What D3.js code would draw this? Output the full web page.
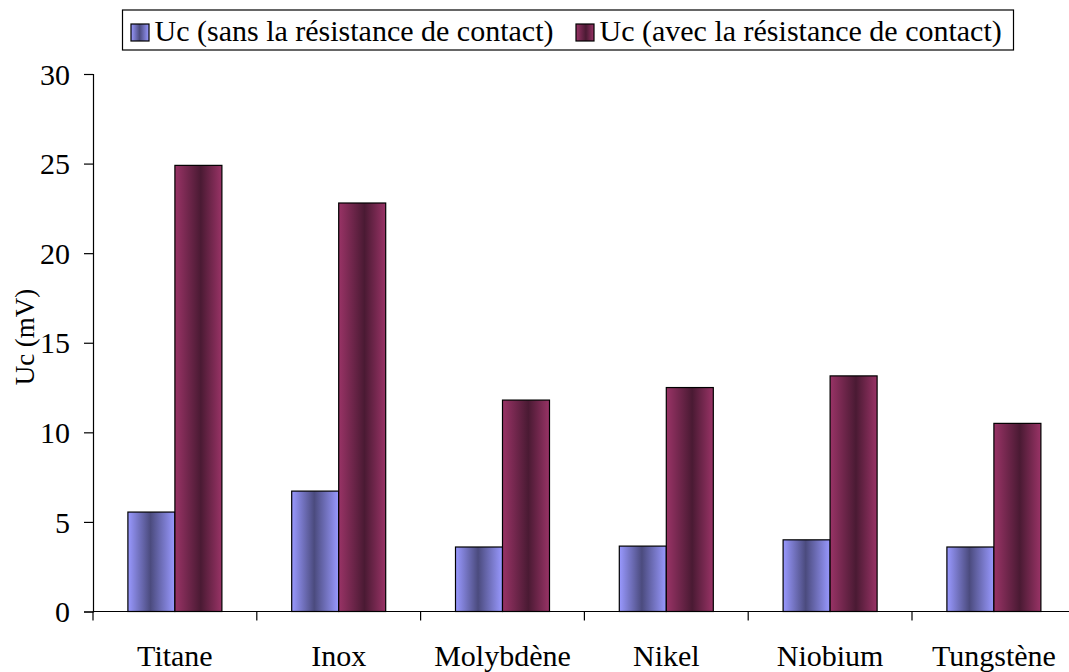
<!DOCTYPE html>
<html>
<head>
<meta charset="utf-8">
<script src="https://cdn.jsdelivr.net/npm/d3@7/dist/d3.min.js"></script>
<style>
  html, body { margin: 0; padding: 0; background: #fff; }
  svg { display: block; }
</style>
</head>
<body>
<svg id="chart" width="1069" height="672"></svg>
<script>
// Contact voltage per electrode material
const categories = ["Titane", "Inox", "Molybdène", "Nikel", "Niobium", "Tungstène"];
const seriesNames = ["Uc (sans la résistance de contact)", "Uc (avec la résistance de contact)"];
const sansResistance = [5.55, 6.72, 3.6, 3.65, 4.0, 3.6];
const avecResistance = [24.9, 22.8, 11.8, 12.5, 13.15, 10.5];
const yTicks = [0, 5, 10, 15, 20, 25, 30];
const yTitle = "Uc (mV)";

const FONT = '"Liberation Serif"';

const svg = d3.select("#chart");
const plot = { left: 93, top: 74, bottom: 611.5, catWidth: 163.8 };

const x = d3.scaleBand()
  .domain(categories)
  .range([plot.left, plot.left + plot.catWidth * categories.length])
  .padding(0);

const groupW = x.bandwidth() * 94 / 163.8;
const xs = d3.scaleBand()
  .domain([0, 1])
  .range([(x.bandwidth() - groupW) / 2, (x.bandwidth() + groupW) / 2])
  .padding(0);

const y = d3.scaleLinear().domain([0, 30]).range([plot.bottom, plot.top]);

// Shaded fills, dark band slightly off centre
const defs = svg.append("defs");
const fills = [
  { id: "gBlue", light: "#9999ff", dark: "#4b4b7e", at: 0.48 },
  { id: "gRed", light: "#993366", dark: "#4a1a33", at: 0.55 }
];
fills.forEach(f => {
  const g = defs.append("linearGradient").attr("id", f.id)
    .attr("x1", "0%").attr("x2", "100%").attr("y1", "0%").attr("y2", "0%");
  g.append("stop").attr("offset", "0%").attr("stop-color", f.light);
  g.append("stop").attr("offset", (f.at * 100) + "%").attr("stop-color", f.dark);
  g.append("stop").attr("offset", "100%").attr("stop-color", f.light);
});

const series = [sansResistance, avecResistance];

// Bars
const groups = svg.append("g").selectAll("g")
  .data(categories)
  .join("g")
  .attr("transform", d => `translate(${x(d)},0)`);

groups.selectAll("rect")
  .data((d, i) => series.map((s, k) => ({ k, v: s[i] })))
  .join("rect")
  .attr("x", d => xs(d.k))
  .attr("width", xs.bandwidth())
  .attr("y", d => y(d.v))
  .attr("height", d => y(0) - y(d.v))
  .attr("fill", d => `url(#${fills[d.k].id})`)
  .attr("stroke", "#000")
  .attr("stroke-width", 1.2);

// Y axis
const yAxis = d3.axisLeft(y).tickValues(yTicks).tickSize(9).tickPadding(14).tickFormat(d3.format("d"));
const gy = svg.append("g").attr("transform", `translate(${plot.left},0)`).call(yAxis);
gy.select(".domain").attr("stroke", "#000").attr("stroke-width", 1.2);
gy.selectAll(".tick line").attr("stroke", "#000").attr("stroke-width", 1.2);
gy.selectAll(".tick text")
  .style("font-family", FONT).style("font-size", "30px")
  .attr("fill", "#000").attr("dy", "0.34em");

// X axis: baseline with ticks at category boundaries
const gx = svg.append("g").attr("transform", `translate(0,${plot.bottom})`);
gx.append("line")
  .attr("x1", plot.left).attr("x2", x.range()[1])
  .attr("stroke", "#000").attr("stroke-width", 1.2);
gx.selectAll("line.tk")
  .data(categories)
  .join("line")
  .attr("class", "tk")
  .attr("x1", d => x(d)).attr("x2", d => x(d))
  .attr("y1", 0).attr("y2", 9)
  .attr("stroke", "#000").attr("stroke-width", 1.2);
gx.selectAll("text")
  .data(categories)
  .join("text")
  .attr("x", d => x(d) + x.bandwidth() / 2)
  .attr("y", 54)
  .attr("text-anchor", "middle")
  .style("font-family", FONT).style("font-size", "30px")
  .text(d => d);

// Y title
svg.append("text")
  .attr("transform", "translate(34,337) rotate(-90)")
  .attr("text-anchor", "middle")
  .style("font-family", FONT).style("font-size", "27px")
  .text(yTitle);

// Legend
const legend = svg.append("g");
legend.append("rect")
  .attr("x", 122.5).attr("y", 10).attr("width", 891).attr("height", 40)
  .attr("fill", "#fff").attr("stroke", "#000").attr("stroke-width", 1.2);
const legX = [131, 576];
seriesNames.forEach((name, k) => {
  legend.append("rect")
    .attr("x", legX[k]).attr("y", 24).attr("width", 18).attr("height", 17)
    .attr("fill", `url(#${fills[k].id})`)
    .attr("stroke", "#000").attr("stroke-width", 1.2);
  legend.append("text")
    .attr("x", legX[k] + 23.5).attr("y", 41)
    .style("font-family", FONT).style("font-size", "30px")
    .text(name);
});
</script>
</body>
</html>
